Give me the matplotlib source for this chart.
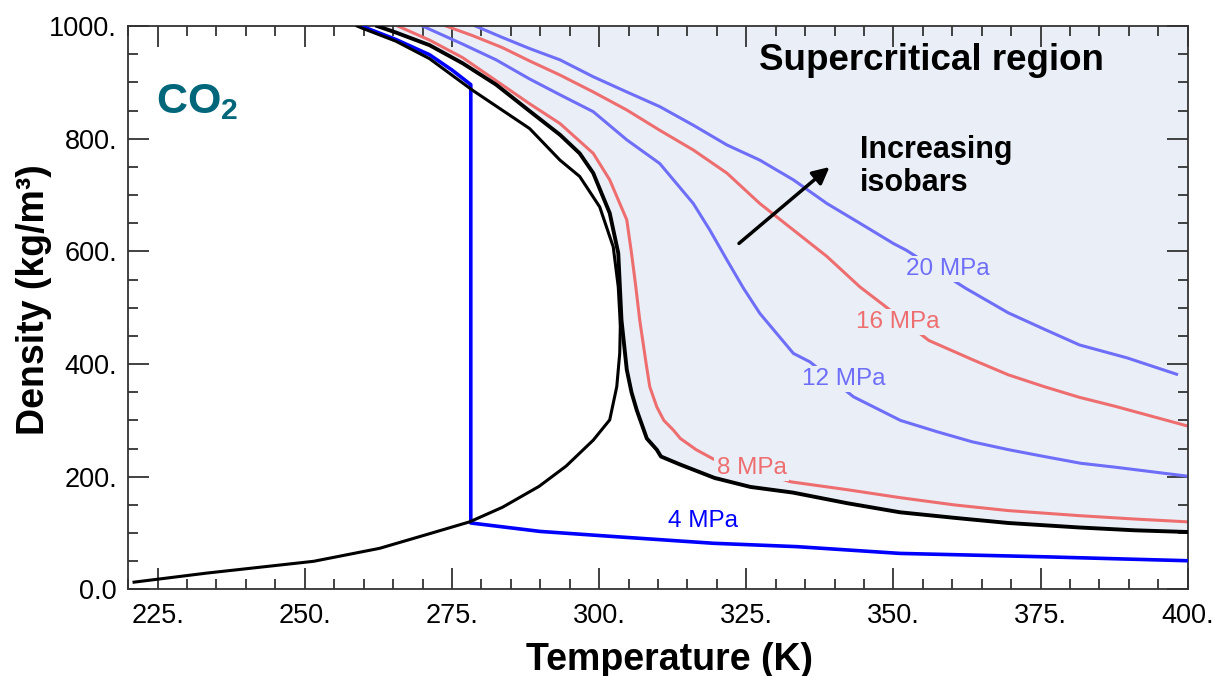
import matplotlib
matplotlib.use("Agg")
import matplotlib.pyplot as plt
from matplotlib.ticker import MultipleLocator, FuncFormatter

plt.rcParams['font.family'] = ['Liberation Sans', 'DejaVu Sans']
plt.rcParams['mathtext.fontset'] = 'custom'
plt.rcParams['mathtext.rm'] = 'Liberation Sans'
plt.rcParams['mathtext.bf'] = 'Liberation Sans:bold'

# saturation dome (vapour branch then liquid branch), T in K, rho in kg/m3
dome_T = [221.0, 233.3, 251.5, 262.7, 271.2, 278.0, 283.6, 289.8, 294.4, 299.0, 301.8, 303.0,
          303.5, 303.6, 303.5, 303.25, 302.4, 300.1, 296.7, 293.35, 288.2, 278.5, 271.2, 265.5,
          259.8, 258.9]
dome_rho = [13, 29, 50, 73, 99, 120, 146, 183, 219, 265, 301, 360,
            419, 467, 490, 537, 608, 679, 733, 762, 818, 886, 942, 973,
            996, 1000]

# critical isobar (thick black)
crit_T = [262.3, 265.6, 271.2, 276.8, 282.5, 288.2, 293.35, 296.7, 299.0, 301.8, 303.25, 303.8,
          304.7, 305.5, 306.4, 308.1, 309.8, 310.5, 313.7, 319.6, 325.7, 332.9, 342.2, 351.1,
          360.5, 369.5, 381.6, 391.0, 400.0]
crit_rho = [1000, 988, 966, 934, 896, 849, 807, 774, 739, 668, 597, 478,
            390, 350, 318, 268, 248, 236, 222, 198, 182, 172, 153, 137,
            127, 118, 110, 105, 102]

# 4 MPa isobar (liquid, two-phase drop, vapour)
p4_T = [259.6, 265.5, 271.2, 275.0, 278.2, 278.2, 290.0, 302.4, 319.4, 333.6, 351.1, 375.6, 400.0]
p4_rho = [1000, 976, 949, 922, 896, 118, 103, 94, 82, 76, 64, 58, 51]

p8_T = [265.8, 271.2, 276.8, 282.5, 288.2, 293.35, 299.0, 301.8, 304.7, 305.5, 306.2, 306.9,
        308.0, 308.6, 309.8, 311.0, 312.6, 313.8, 316.5, 319.5, 332.6, 342.2, 351.1, 360.4,
        369.5, 381.6, 391.0, 400.0]
p8_rho = [1000, 975, 944, 903, 862, 827, 774, 727, 656, 597, 540, 478,
          400, 360, 324, 300, 283, 268, 248, 231, 191, 177, 163, 150,
          140, 131, 125, 120]

p12_T = [270.0, 276.8, 282.5, 288.2, 293.35, 299.0, 304.7, 310.3, 316.0, 318.8, 321.7, 324.5,
         327.3, 333.0, 335.8, 343.2, 351.2, 357.4, 363.4, 369.6, 375.6, 381.8, 387.7, 400.0]
p12_rho = [1000, 968, 940, 906, 878, 848, 798, 756, 685, 638, 585, 535,
           490, 419, 404, 342, 300, 280, 262, 248, 236, 224, 217, 201]

p16_T = [274.0, 278.5, 283.5, 288.2, 293.35, 299.0, 304.7, 310.3, 316.0, 321.7, 327.3, 333.0,
         338.7, 344.3, 348.3, 356.0, 363.4, 369.5, 375.6, 381.6, 387.7, 400.0]
p16_rho = [1000, 983, 962, 938, 913, 883, 851, 815, 780, 739, 685, 638,
           591, 537, 505, 442, 408, 381, 360, 341, 325, 290]

p20_T = [279.0, 283.5, 288.2, 293.35, 299.0, 304.7, 310.3, 316.0, 321.7, 327.3, 333.0, 338.7,
         344.3, 350.0, 352.2, 362.2, 369.5, 375.6, 381.6, 389.7, 398.1]
p20_rho = [1000, 980, 960, 940, 910, 883, 857, 824, 789, 762, 727, 685,
           650, 614, 602, 535, 491, 462, 434, 411, 382]

labels = ["4 MPa", "8 MPa", "12 MPa", "16 MPa", "20 MPa"]
label_T = [317.6, 325.9, 341.6, 350.7, 359.3]
label_rho = [122, 216, 373, 475, 569]

SHADE = '#eaeff7'
BLUE = '#0000ff'
LBLUE = '#6e6ef8'
RED = '#ee6e70'
TEAL = '#00677a'

fig = plt.figure(figsize=(12.15, 6.76), dpi=100)
ax = fig.add_axes([0.1055, 0.128, 0.8721, 0.8335])

# supercritical shading, bounded by critical isobar
ax.fill(crit_T + [400.0, 400.0], crit_rho + [1000, 1000], color=SHADE, lw=0, zorder=0)

ax.plot(p20_T, p20_rho, color=LBLUE, lw=2.2, zorder=2)
ax.plot(p16_T, p16_rho, color=RED, lw=2.2, zorder=2)
ax.plot(p12_T, p12_rho, color=LBLUE, lw=2.2, zorder=2)
ax.plot(p8_T, p8_rho, color=RED, lw=2.2, zorder=2)
ax.plot(p4_T, p4_rho, color=BLUE, lw=2.6, zorder=4)
ax.plot(dome_T, dome_rho, color='black', lw=2.2, zorder=5)
ax.plot(crit_T, crit_rho, color='black', lw=2.8, zorder=5)

label_colors = [BLUE, RED, LBLUE, RED, LBLUE]
for i, lab in enumerate(labels):
    if i == 0:
        ax.text(label_T[i], label_rho[i], lab, color=label_colors[i], fontsize=17.5,
                ha='center', va='center', zorder=6)
    else:
        # label sits on its line; the box hides the line under the text
        ax.text(label_T[i], label_rho[i], lab, color=label_colors[i], fontsize=17.5,
                ha='center', va='center', zorder=3,
                bbox=dict(facecolor=SHADE, edgecolor='none', pad=1.5))

ax.annotate('', xy=(339.5, 753), xytext=(323.4, 611),
            arrowprops=dict(arrowstyle='-|>', lw=2.5, color='black', mutation_scale=25),
            zorder=6)
ax.text(344.3, 806, "Increasing\nisobars", fontsize=22, fontweight='bold',
        ha='left', va='top', linespacing=1.12)
ax.text(356.4, 922, "Supercritical region", fontsize=26.5, fontweight='bold',
        ha='center', va='baseline')
ax.text(224.8, 845, r'$\mathbf{CO_2}$', fontsize=31, color=TEAL,
        ha='left', va='baseline')

ax.set_xlim(220, 400)
ax.set_ylim(0, 1000)
ax.xaxis.set_major_locator(MultipleLocator(25))
ax.xaxis.set_minor_locator(MultipleLocator(5))
ax.yaxis.set_major_locator(MultipleLocator(200))
ax.yaxis.set_minor_locator(MultipleLocator(50))
ax.xaxis.set_major_formatter(FuncFormatter(lambda v, p: f"{v:.0f}."))
ax.yaxis.set_major_formatter(FuncFormatter(lambda v, p: "0.0" if v == 0 else f"{v:.0f}."))

ax.tick_params(which='both', direction='in', top=True, right=True, colors='#333333', width=1.3)
ax.tick_params(which='major', length=15, labelsize=19.5, labelcolor='black')
ax.tick_params(axis='x', which='major', pad=10)
ax.tick_params(axis='y', which='major', pad=8)
ax.tick_params(which='minor', length=7.5)
for s in ax.spines.values():
    s.set_color('#333333')
    s.set_linewidth(1.3)

ax.set_xlabel("Temperature (K)", fontsize=27, fontweight='bold')
ax.set_ylabel("Density (kg/m³)", fontsize=27, fontweight='bold')
ax.xaxis.set_label_coords(0.511, -0.094)
ax.yaxis.set_label_coords(-0.072, 0.515)

fig.savefig("out.png", dpi=100)
